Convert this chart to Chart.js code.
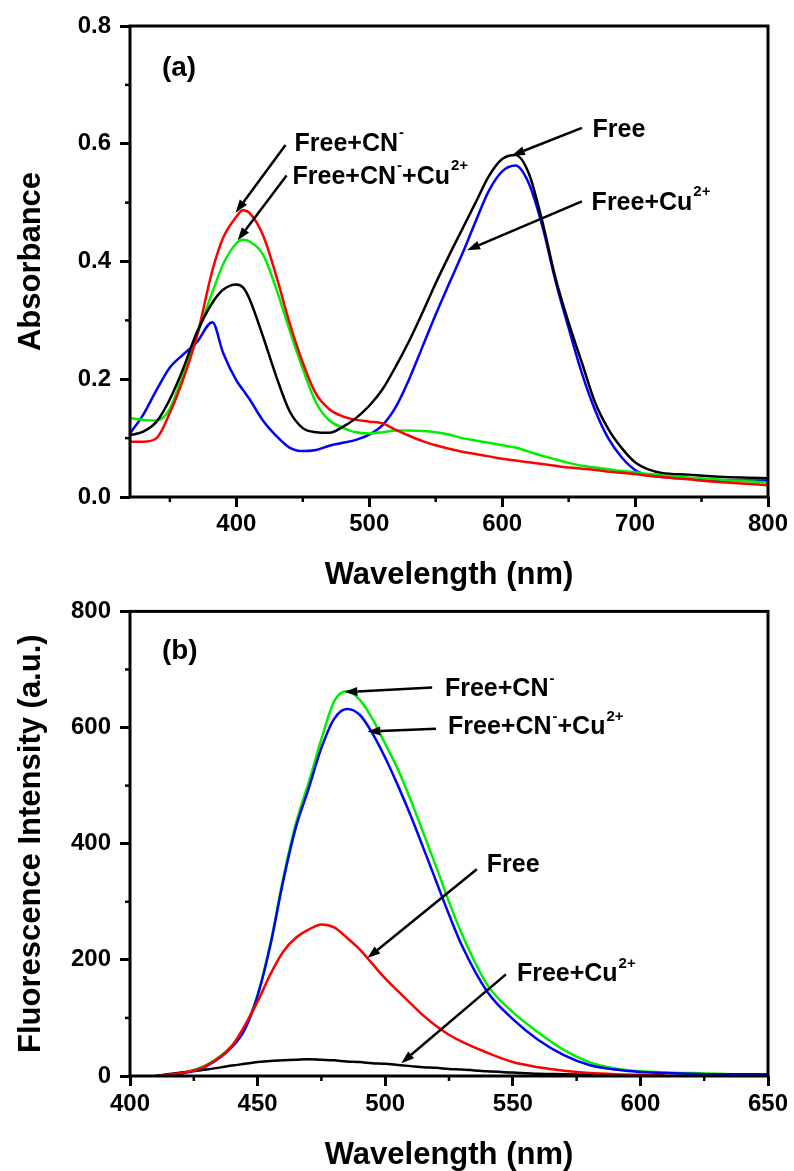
<!DOCTYPE html>
<html><head><meta charset="utf-8">
<script src="https://cdn.jsdelivr.net/npm/chart.js@4"></script>
<style>
html,body{margin:0;padding:0;background:#fff;}
#wrap{position:relative;width:794px;height:1171px;overflow:hidden;}
.box{position:absolute;left:0;width:794px;}
</style></head><body>
<div id="wrap">
<div class="box" style="top:0;height:594px"><canvas id="ca"></canvas></div>
<div class="box" style="top:588px;height:583px"><canvas id="cb"></canvas></div>
</div>
<script>
// ---------- (a) Absorbance ----------
const wavelengthA = [320,330,340,350,360,370,382,390,400,405,410,420,430,440,450,460,470,480,490,500,510,520,530,540,550,560,570,580,590,600,610,620,630,640,650,660,670,680,690,700,710,720,740,760,780,800];
const absFree     = [0.105,0.111,0.128,0.166,0.218,0.278,0.330,0.352,0.361,0.356,0.336,0.273,0.205,0.146,0.117,0.110,0.109,0.119,0.134,0.155,0.183,0.222,0.265,0.313,0.363,0.410,0.455,0.500,0.545,0.574,0.581,0.550,0.470,0.373,0.296,0.228,0.160,0.115,0.083,0.059,0.047,0.041,0.038,0.035,0.033,0.032];
const absFreeCN   = [0.094,0.094,0.100,0.143,0.200,0.270,0.385,0.440,0.476,0.487,0.482,0.445,0.376,0.296,0.228,0.175,0.149,0.137,0.131,0.128,0.125,0.114,0.104,0.095,0.088,0.082,0.077,0.073,0.069,0.065,0.062,0.059,0.056,0.053,0.050,0.048,0.046,0.043,0.041,0.039,0.036,0.034,0.030,0.026,0.023,0.020];
const absFreeCNCu = [0.134,0.131,0.130,0.150,0.210,0.272,0.348,0.395,0.431,0.437,0.434,0.412,0.354,0.284,0.218,0.160,0.130,0.118,0.110,0.108,0.110,0.113,0.113,0.112,0.110,0.106,0.100,0.096,0.092,0.088,0.084,0.077,0.070,0.064,0.058,0.053,0.050,0.047,0.044,0.042,0.039,0.037,0.033,0.030,0.027,0.025];
const absFreeCu   = [0.108,0.140,0.182,0.220,0.242,0.262,0.297,0.245,0.198,0.182,0.166,0.130,0.104,0.084,0.078,0.080,0.087,0.092,0.097,0.106,0.122,0.153,0.200,0.255,0.310,0.362,0.413,0.468,0.520,0.553,0.563,0.533,0.462,0.368,0.287,0.210,0.147,0.099,0.067,0.046,0.037,0.034,0.031,0.029,0.028,0.028];
const xTicksA = [400,500,600,700,800];
const xMinorA = [350,450,550,650,750];
const yTicksA = [0,0.2,0.4,0.6,0.8];
const yMinorA = [0.1,0.3,0.5,0.7];

// ---------- (b) Fluorescence ----------
const wavelengthB = [410,420,430,440,445,450,455,460,465,470,475,480,485,490,495,500,505,510,515,520,525,530,540,550,560,570,580,590,600,610,620,630,640,650];
const flFree     = [0,5,18,52,87,128,175,214,238,252,261,256,238,218,193,168,146,125,104,86,71,59,40,24,15,9,5,3,2,1,null,null,null,null];
const flFreeCN   = [0,4,19,53,84,140,228,340,435,505,580,645,663,648,615,572,528,475,418,360,300,245,157,110,75,45,24,13,8,6,5,4,3,3];
const flFreeCNCu = [0,4,17,50,80,138,225,335,428,495,565,615,632,622,590,548,500,448,392,335,278,225,145,98,62,36,19,11,7,5,4,3,3,3];
const flFreeCu   = [0,6,11,18,21,24,26,27,28,29,28,27,25,24,22,21,19,17,15,14,12,11,8,6,4,3,2,1,1,null,null,null,null,null];
const xTicksB = [400,450,500,550,600,650];
const xMinorB = [425,475,525,575,625];
const yTicksB = [0,200,400,600,800];
const yMinorB = [100,300,500,700];

const FONT = '"Liberation Sans", Arial, sans-serif';
Chart.defaults.font.family = FONT;
Chart.defaults.font.weight = 'bold';
Chart.defaults.color = '#000';

function pts(xs, ys){ return xs.map((x,i)=>({x:x, y:ys[i]})); }

function makeAnnot(cfg){
  return {
    id: 'annot_' + cfg.name,
    afterDraw(chart){
      const ctx = chart.ctx, ca = chart.chartArea, sx = chart.scales.x, sy = chart.scales.y;
      ctx.save();
      ctx.strokeStyle = '#000'; ctx.fillStyle = '#000';
      ctx.lineWidth = 2.5;
      cfg.xMinor.forEach(v=>{ const p = sx.getPixelForValue(v); ctx.beginPath(); ctx.moveTo(p, ca.bottom); ctx.lineTo(p, ca.bottom+5); ctx.stroke(); });
      cfg.yMinor.forEach(v=>{ const p = sy.getPixelForValue(v); ctx.beginPath(); ctx.moveTo(ca.left-5, p); ctx.lineTo(ca.left, p); ctx.stroke(); });
      ctx.lineWidth = 3;
      ctx.strokeRect(ca.left, ca.top, ca.right-ca.left, ca.bottom-ca.top);
      cfg.arrows.forEach(a=>{
        const x1 = sx.getPixelForValue(a[0]), y1 = sy.getPixelForValue(a[1]);
        const x2 = sx.getPixelForValue(a[2]), y2 = sy.getPixelForValue(a[3]);
        const ang = Math.atan2(y2-y1, x2-x1), hl = 13, hw = 4.5;
        const bx = x2 - hl*Math.cos(ang), by = y2 - hl*Math.sin(ang);
        ctx.lineWidth = 2.5;
        ctx.beginPath(); ctx.moveTo(x1,y1); ctx.lineTo(bx,by); ctx.stroke();
        ctx.beginPath();
        ctx.moveTo(x2,y2);
        ctx.lineTo(bx + hw*Math.sin(ang), by - hw*Math.cos(ang));
        ctx.lineTo(bx - hw*Math.sin(ang), by + hw*Math.cos(ang));
        ctx.closePath(); ctx.fill();
      });
      cfg.labels.forEach(l=>{
        let x = sx.getPixelForValue(l.x); const y = sy.getPixelForValue(l.y);
        const size = l.size || 25;
        ctx.textBaseline = 'middle'; ctx.textAlign = 'left';
        l.segs.forEach(s=>{
          if (s[1]) {
            ctx.font = 'bold ' + Math.round(size*0.6) + 'px ' + FONT;
            ctx.fillText(s[0], x+1, y - size*0.42);
            x += ctx.measureText(s[0]).width + 1;
          } else {
            ctx.font = 'bold ' + size + 'px ' + FONT;
            ctx.fillText(s[0], x, y);
            x += ctx.measureText(s[0]).width;
          }
        });
      });
      ctx.restore();
    }
  };
}

function axisX(min, max, ticks, height, pad, titlePad){
  return {
    type:'linear', min:min, max:max,
    afterBuildTicks: s => { s.ticks = ticks.map(v=>({value:v})); },
    afterFit: s => { s.height = height; },
    ticks: { padding:pad, font:{size:24, weight:'bold'}, color:'#000', maxRotation:0, autoSkip:false, callback: v => String(v) },
    grid: { display:true, drawOnChartArea:false, drawTicks:true, tickLength:10, tickWidth:3, tickColor:'#000', color:'#000' },
    border: { display:false },
    title: { display:true, text:'Wavelength (nm)', color:'#000', font:{size:31, weight:'bold', lineHeight:1}, padding:{top:0, bottom:titlePad} }
  };
}
function axisY(min, max, ticks, title, fmt){
  return {
    type:'linear', min:min, max:max,
    afterBuildTicks: s => { s.ticks = ticks.map(v=>({value:v})); },
    afterFit: s => { s.width = 130; },
    ticks: { padding:9, font:{size:24, weight:'bold'}, color:'#000', autoSkip:false, callback: fmt },
    grid: { display:true, drawOnChartArea:false, drawTicks:true, tickLength:10, tickWidth:3, tickColor:'#000', color:'#000' },
    border: { display:false },
    title: { display:true, text:title, color:'#000', font:{size:31, weight:'bold', lineHeight:1}, padding:{top:15.5, bottom:0} }
  };
}
function ds(label, xs, ys, color){
  return { label:label, data:pts(xs, ys), borderColor:color, backgroundColor:color, borderWidth:2.5, pointRadius:0, fill:false, cubicInterpolationMode:'monotone', spanGaps:false };
}

new Chart(document.getElementById('ca'), {
  type:'line',
  data:{ datasets:[
    ds('Free', wavelengthA, absFree, '#000000'),
    ds('Free+CN-', wavelengthA, absFreeCN, '#ff0000'),
    ds('Free+CN-+Cu2+', wavelengthA, absFreeCNCu, '#00ee00'),
    ds('Free+Cu2+', wavelengthA, absFreeCu, '#0000ff')
  ]},
  options:{
    responsive:true, maintainAspectRatio:false, animation:false,
    layout:{ padding:{ left:0, right:26, top:26, bottom:0 } },
    plugins:{ legend:{display:false}, tooltip:{enabled:false} },
    scales:{
      x: axisX(320, 800, xTicksA, 97, 3, 3.5),
      y: axisY(0, 0.8, yTicksA, 'Absorbance', v => v.toFixed(1))
    }
  },
  plugins:[ makeAnnot({
    name:'a', xMinor:xMinorA, yMinor:yMinorA,
    arrows:[[437,0.598,399.5,0.483],[437.8,0.546,401,0.436],[660,0.627,607.3,0.580],[660,0.502,573.6,0.419]],
    labels:[
      {x:443.8, y:0.600, segs:[['Free+CN'],['-',1]]},
      {x:442.3, y:0.544, segs:[['Free+CN'],['-',1],['+Cu'],['2+',1]]},
      {x:668, y:0.624, segs:[['Free']]},
      {x:667.3, y:0.500, segs:[['Free+Cu'],['2+',1]]},
      {x:344, y:0.729, size:28, segs:[['(a)']]}
    ]
  }) ]
});

new Chart(document.getElementById('cb'), {
  type:'line',
  data:{ datasets:[
    ds('Free', wavelengthB, flFree, '#ff0000'),
    ds('Free+CN-+Cu2+', wavelengthB, flFreeCNCu, '#0000ff'),
    ds('Free+CN-', wavelengthB, flFreeCN, '#00ee00'),
    ds('Free+Cu2+', wavelengthB, flFreeCu, '#000000')
  ]},
  options:{
    responsive:true, maintainAspectRatio:false, animation:false,
    layout:{ padding:{ left:0, right:26, top:16, bottom:0 } },
    plugins:{ legend:{display:false}, tooltip:{enabled:false} },
    scales:{
      x: axisX(400, 650, xTicksB, 95, 4, 0.5),
      y: axisY(0, 800, yTicksB, 'Fluorescence Intensity (a.u.)', v => String(v))
    }
  },
  plugins:[ makeAnnot({
    name:'b', xMinor:xMinorB, yMinor:yMinorB,
    arrows:[[518.4,669,484,661],[519.9,598,493,593],[535.9,356,493,203],[547.3,175,506.3,22]],
    labels:[
      {x:523.4, y:666, segs:[['Free+CN'],['-',1]]},
      {x:524.6, y:600, segs:[['Free+CN'],['-',1],['+Cu'],['2+',1]]},
      {x:539.8, y:363, segs:[['Free']]},
      {x:551.6, y:175, segs:[['Free+Cu'],['2+',1]]},
      {x:412.5, y:731, size:28, segs:[['(b)']]}
    ]
  }) ]
});
</script>
</body></html>
